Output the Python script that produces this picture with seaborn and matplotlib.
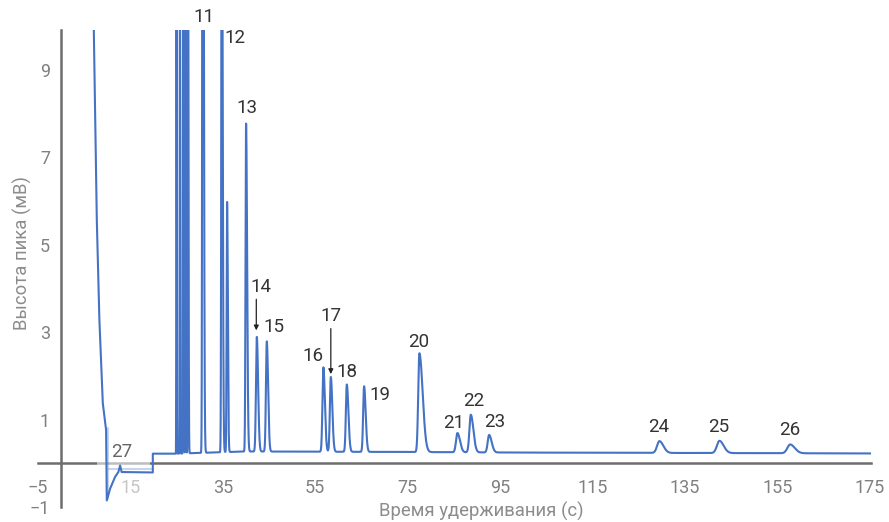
import numpy as np
import matplotlib
matplotlib.use("Agg")
import matplotlib.pyplot as plt
from matplotlib.patches import Rectangle
import seaborn as sns

# ---- data ----
# solvent front / early part of the trace (time s, height mV)
front_x = [6.95, 7.08, 7.73, 8.29, 9.03, 9.74, 9.89, 10.61, 11.69, 12.40, 12.77, 13.10, 19.85, 19.85, 24.83]
front_y = [12.0, 9.91, 5.56, 3.27, 1.37, 0.76, -0.85, -0.58, -0.31, -0.20, -0.05, -0.20, -0.21, 0.22, 0.22]

# drifting baseline after the injection step
base_x = [24.83, 40, 70, 100, 175.5]
base_y = [0.22, 0.27, 0.26, 0.245, 0.225]

# peaks: retention time, height above baseline, left / right width
peak_rt = [24.98, 25.72, 26.45, 26.95, 27.45, 30.67, 34.78, 35.93, 40.04,
           42.36, 44.52, 56.77, 58.38, 61.84, 65.58, 77.55, 85.78, 88.68, 92.64,
           129.5, 142.5, 157.8]
peak_h = [14, 12, 20, 18, 16, 25, 15, 5.72, 7.5,
          2.62, 2.52, 1.93, 1.71, 1.54, 1.50, 2.26, 0.44, 0.86, 0.40,
          0.27, 0.28, 0.20]
peak_sl = [0.04, 0.04, 0.05, 0.05, 0.05, 0.10, 0.10, 0.10, 0.12,
           0.18, 0.18, 0.20, 0.20, 0.20, 0.20, 0.25, 0.30, 0.30, 0.30,
           0.50, 0.55, 0.60]
peak_sr = [0.06, 0.06, 0.08, 0.08, 0.10, 0.18, 0.18, 0.16, 0.22,
           0.28, 0.28, 0.32, 0.32, 0.34, 0.34, 0.70, 0.55, 0.55, 0.55,
           0.85, 0.90, 1.00]

# peak numbers and where they sit (data coords)
lab_text = ["11", "12", "13", "14", "15", "16", "17", "18", "19", "20",
            "21", "22", "23", "24", "25", "26"]
lab_x = [30.95, 37.6, 40.26, 43.3, 46.0, 54.5, 58.5, 61.9, 69.1, 77.5,
         84.9, 89.4, 93.9, 129.4, 142.4, 157.8]
lab_y = [10.21, 9.73, 8.12, 4.03, 3.12, 2.45, 3.38, 2.08, 1.56, 2.77,
         0.92, 1.42, 0.94, 0.82, 0.82, 0.76]
# arrows for crowded peaks 14 and 17: (x, y_from, y_to)
arrows = [(42.25, 3.75, 3.04), (58.38, 3.08, 2.04)]

x_ticks = list(range(-5, 176, 20))
y_ticks = [-1, 1, 3, 5, 7, 9]

# ---- build trace ----
grid = np.linspace(24.83, 175.5, 15000)
sig = np.interp(grid, base_x, base_y)
for rt, h, sl, sr in zip(peak_rt, peak_h, peak_sl, peak_sr):
    s = np.where(grid < rt, sl, sr)
    sig = sig + h * np.exp(-0.5 * ((grid - rt) / s) ** 2)
tx = np.concatenate([front_x, grid])
ty = np.concatenate([front_y, sig])

sns.set_style("white")
plt.rcParams['font.family'] = ['Roboto', 'DejaVu Sans']

fig = plt.figure(figsize=(8.89, 5.22), dpi=100)
ax = fig.add_axes([38 / 889, 15 / 522, (871 - 38) / 889, (507 - 30) / 522])

blue = "#4472C4"
sns.lineplot(x=tx, y=ty, sort=False, estimator=None, color=blue, lw=1.5, ax=ax, zorder=3)
# faint ghost lines near the injection point
ax.plot([10.1, 10.1], [0.8, -0.8], color=blue, alpha=0.3, lw=1.5, zorder=2.8)
ax.plot([10.3, 19.6], [-0.12, -0.12], color=blue, alpha=0.3, lw=1.5, zorder=2.8)

ax.set_xlim(-5, 175.3)
ax.set_ylim(-1, 9.91)
ax.set_xticks(x_ticks)
ax.set_yticks(y_ticks)
ax.tick_params(axis='both', length=0, labelsize=13, labelcolor="#808080")
ax.tick_params(axis='x', pad=11)
ax.tick_params(axis='y', pad=8)
ax.set_xlabel("")
ax.set_ylabel("")

for side in ["top", "right"]:
    ax.spines[side].set_visible(False)
for side in ["left", "bottom"]:
    ax.spines[side].set_position(("data", 0))
    ax.spines[side].set_color("#6d6d6d")
    ax.spines[side].set_linewidth(1.8)

# washed-out patch around the injection artefact
ax.add_patch(Rectangle((7.7, -0.78), 11.6, 1.55, facecolor="white", alpha=0.55,
                       edgecolor="none", zorder=2.7))

for t, x, y in zip(lab_text, lab_x, lab_y):
    ax.text(x, y, t, ha="center", va="center", fontsize=13.5, color="#333333",
            zorder=5, clip_on=False)
ax.text(13.2, 0.25, "27", ha="center", va="center", fontsize=13.5, color="#666666", zorder=5)

for x, y0, y1 in arrows:
    ax.annotate("", xy=(x, y1), xytext=(x, y0),
                arrowprops=dict(arrowstyle="-|>", color="#222222", lw=0.9,
                                mutation_scale=7, shrinkA=0, shrinkB=0), zorder=5)

fig.text(481 / 889, 1 - 511 / 522, "Время удерживания (с)", ha="center", va="center",
         fontsize=13.3, color="#8c8c8c")
fig.text(22 / 889, 1 - 253 / 522, "Высота пика (мВ)", ha="center", va="center",
         rotation=90, fontsize=13.3, color="#8c8c8c")

fig.savefig("out.png", dpi=100)
